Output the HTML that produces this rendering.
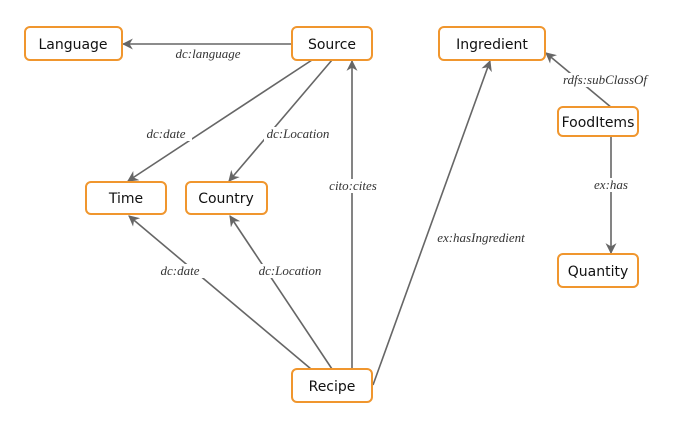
<!DOCTYPE html>
<html><head><meta charset="utf-8"><style>
html,body{margin:0;padding:0;background:#fff;width:695px;height:430px;overflow:hidden}
</style></head><body>
<svg width="695" height="430" viewBox="0 0 695 430" xmlns="http://www.w3.org/2000/svg">
<defs>
<marker id="a" viewBox="0 0 10 10" refX="9" refY="5" markerWidth="11" markerHeight="11" orient="auto" markerUnits="userSpaceOnUse">
<path d="M0,0 L10,5 L0,10 L3,5 z" fill="#666"/></marker>
</defs>
<g stroke="#666" stroke-width="1.6" fill="none" marker-end="url(#a)">
<line x1="292" y1="44" x2="123" y2="44"/>
<line x1="312" y1="60" x2="128" y2="181"/>
<line x1="332" y1="60" x2="229" y2="181"/>
<line x1="352" y1="369" x2="352" y2="61"/>
<line x1="311" y1="369" x2="129" y2="216"/>
<line x1="332" y1="369" x2="230" y2="216"/>
<line x1="373" y1="385" x2="490" y2="61"/>
<line x1="612" y1="108" x2="546" y2="53"/>
<line x1="611" y1="135" x2="611" y2="253"/>
</g>
<g font-family="Liberation Serif, serif" font-style="italic" font-size="13" fill="#333" text-anchor="middle">
<rect x="170" y="47" width="76" height="14" fill="#fff"/><text x="208" y="58">dc:language</text>
<rect x="140" y="127" width="52" height="14" fill="#fff"/><text x="166" y="138">dc:date</text>
<rect x="264" y="127" width="70" height="14" fill="#fff"/><text x="298" y="138">dc:Location</text>
<rect x="332" y="179" width="42" height="14" fill="#fff"/><text x="353" y="190">cito:cites</text>
<rect x="154" y="264" width="52" height="14" fill="#fff"/><text x="180" y="275">dc:date</text>
<rect x="255" y="264" width="70" height="14" fill="#fff"/><text x="290" y="275">dc:Location</text>
<text x="481" y="242">ex:hasIngredient</text>
<rect x="562" y="73" width="86" height="14" fill="#fff"/><text x="605" y="84">rdfs:subClassOf</text>
<rect x="589" y="178" width="44" height="14" fill="#fff"/><text x="611" y="189">ex:has</text>
</g>
<g stroke="#f0962e" stroke-width="2" fill="#fff">
<rect x="25" y="27" width="97" height="33" rx="5"/>
<rect x="292" y="27" width="80" height="33" rx="5"/>
<rect x="439" y="27" width="106" height="33" rx="5"/>
<rect x="86" y="182" width="80" height="32" rx="5"/>
<rect x="186" y="182" width="81" height="32" rx="5"/>
<rect x="558" y="107" width="80" height="29" rx="5"/>
<rect x="558" y="254" width="80" height="33" rx="5"/>
<rect x="292" y="369" width="80" height="33" rx="5"/>
</g>
<g font-family="DejaVu Sans, Liberation Sans, sans-serif" font-size="14" fill="#111" text-anchor="middle">
<text x="73" y="49">Language</text>
<text x="332" y="49">Source</text>
<text x="492" y="49">Ingredient</text>
<text x="126" y="203">Time</text>
<text x="226" y="203">Country</text>
<text x="598" y="127">FoodItems</text>
<text x="598" y="276">Quantity</text>
<text x="332" y="391">Recipe</text>
</g>
</svg>
</body></html>
